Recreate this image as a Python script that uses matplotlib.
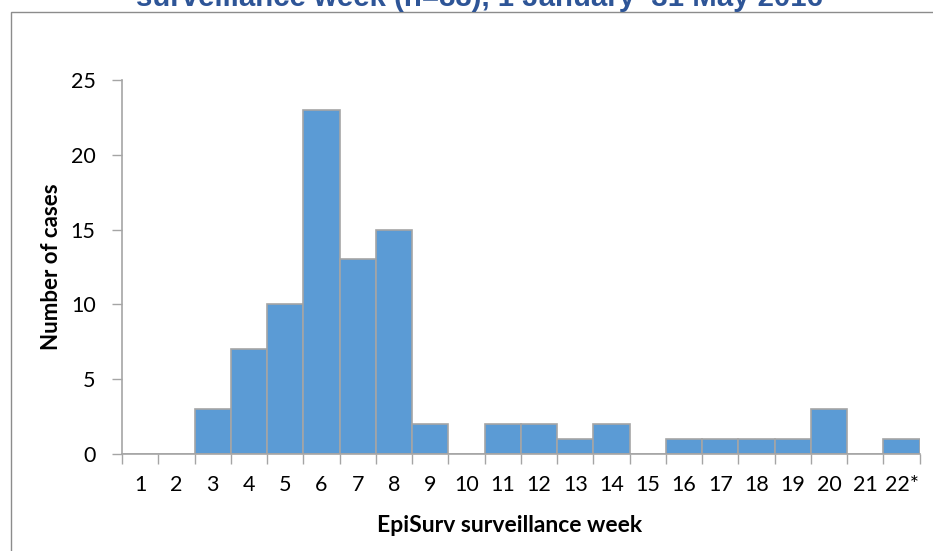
import matplotlib
matplotlib.use("Agg")
import matplotlib.pyplot as plt
from matplotlib.patches import Rectangle

# weekly case counts
weeks = ["1", "2", "3", "4", "5", "6", "7", "8", "9", "10", "11",
         "12", "13", "14", "15", "16", "17", "18", "19", "20", "21", "22*"]
cases = [0, 0, 3, 7, 10, 23, 13, 15, 2, 0, 2,
         2, 1, 2, 0, 1, 1, 1, 1, 3, 0, 1]
yticks = [0, 5, 10, 15, 20, 25]

title = "surveillance week (n=88), 1 January\u201331 May 2016"

plt.rcParams['font.family'] = ['Lato', 'DejaVu Sans']

fig = plt.figure(figsize=(9.33, 5.51), dpi=100)
ax = fig.add_axes([0.1308, 0.176, 0.855, 0.679])

# outer chart border (runs off the right and bottom edges)
fig.patches.append(Rectangle((11/933, -0.1), 1.2, 1 - 12/551 + 0.1,
                             transform=fig.transFigure, fill=False,
                             edgecolor='#8c8c8c', linewidth=1.0))

# title is cut off by the top edge in the original
fig.text(479/933, 1 - 6/551, title, ha='center', va='baseline',
         fontsize=21.2, fontweight='bold', color='#2E5597',
         family=['Liberation Sans', 'DejaVu Sans'])

x = range(len(weeks))
ax.bar(x, cases, width=1.0, color='#5B9BD5', edgecolor='#A5A5A5',
       linewidth=1.2, zorder=2)

ax.set_xlim(-0.5, len(weeks) - 0.5)
ax.set_ylim(0, 25)
ax.set_yticks(yticks)
ax.set_xticks(list(x))
ax.set_xticklabels(weeks, fontsize=15.5)
ax.set_yticklabels([str(v) for v in yticks], fontsize=15.5)

# category boundary ticks
ax.set_xticks([i - 0.5 for i in range(len(weeks) + 1)], minor=True)
ax.tick_params(axis='x', which='major', length=0, pad=15)
ax.tick_params(axis='x', which='minor', length=7, color='#A5A5A5', width=1)
ax.tick_params(axis='y', length=7, color='#A5A5A5', width=1, pad=12)

for s in ['top', 'right']:
    ax.spines[s].set_visible(False)
for s in ['left', 'bottom']:
    ax.spines[s].set_color('#A5A5A5')
    ax.spines[s].set_linewidth(1.2)

ax.set_ylabel("Number of cases", fontsize=16, fontweight='bold')
ax.set_xlabel("EpiSurv surveillance week", fontsize=16.5, fontweight='bold')
ax.yaxis.set_label_coords(-0.075, 0.5)
ax.xaxis.set_label_coords(0.486, -0.163)

fig.savefig("out.png", dpi=100)
